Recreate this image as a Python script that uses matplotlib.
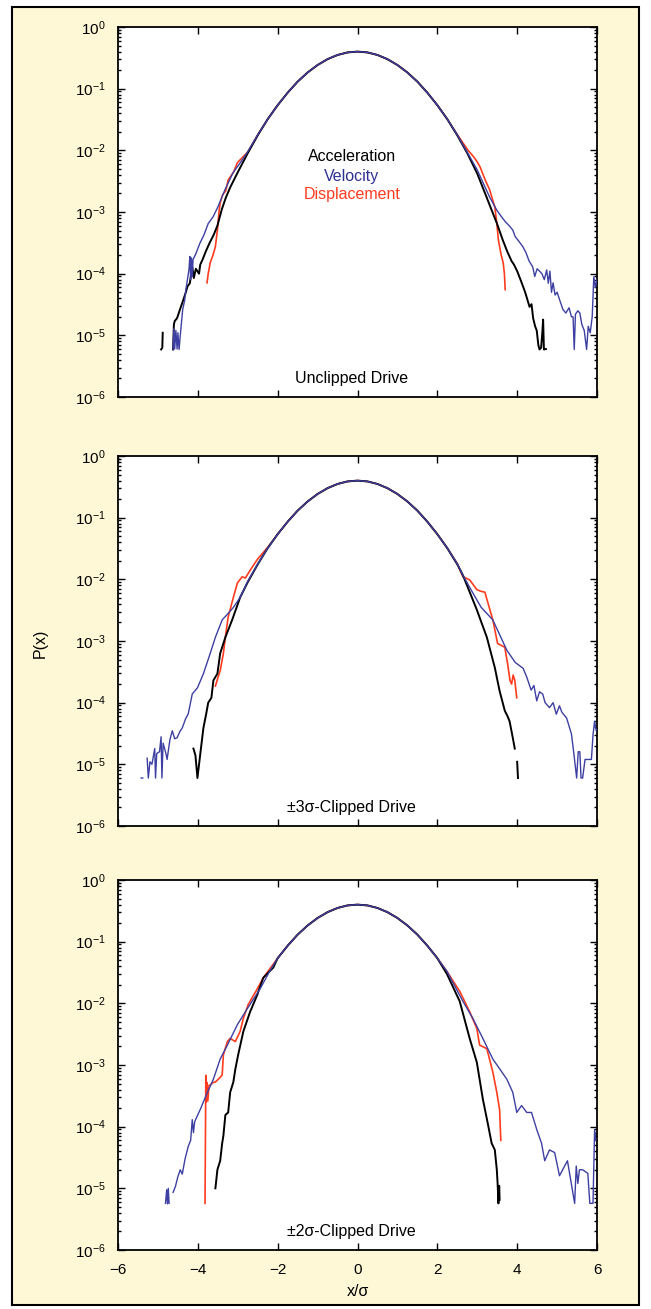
import numpy as np
import matplotlib
matplotlib.use('Agg')
import matplotlib.pyplot as plt
from matplotlib.patches import Rectangle
from matplotlib.ticker import LogLocator, LogFormatterMathtext, NullFormatter, FixedLocator

plt.rcParams['font.family'] = ['Liberation Sans', 'DejaVu Sans']
plt.rcParams['mathtext.fontset'] = 'custom'
plt.rcParams['mathtext.rm'] = 'Liberation Sans'
plt.rcParams['mathtext.it'] = 'Liberation Sans:italic'
plt.rcParams['mathtext.bf'] = 'Liberation Sans:bold'

nan = np.nan

# common gaussian-like core
core_x = [-2.0, -1.75, -1.5, -1.25, -1.0, -0.75, -0.5, -0.25, 0.0,
          0.25, 0.5, 0.75, 1.0, 1.25, 1.5, 1.75, 2.0]
core_p = [0.054, 0.086, 0.130, 0.183, 0.242, 0.301, 0.352, 0.387, 0.399,
          0.387, 0.352, 0.301, 0.242, 0.183, 0.130, 0.086, 0.054]

# ---- unclipped drive ----
acc1_lx = [-4.92, -4.89, -4.88, nan, -4.62, -4.6, -4.58, -4.52, -4.45, -4.38, -4.3, -4.26, -4.2,
           -4.14, -4.1, -4.05, -3.97, -3.94, -3.88, -3.8, -3.7, -3.6, -3.51, -3.4, -3.3, -3.19,
           -3.0, -2.75, -2.5, -2.25]
acc1_lp = [5.9e-6, 6.3e-6, 1.1e-5, nan, 5.9e-6, 1.5e-5, 1.7e-5, 1.9e-5, 2.6e-5, 3.5e-5, 5.0e-5, 6.2e-5, 7.0e-5,
           1.3e-4, 8.5e-5, 1.2e-4, 1.0e-4, 1.4e-4, 1.7e-4, 2.3e-4, 3.2e-4, 4.3e-4, 6.0e-4, 1.1e-3, 1.7e-3, 2.5e-3,
           4.4e-3, 9.0e-3, 1.75e-2, 3.2e-2]
acc1_rx = [2.25, 2.5, 2.75, 3.0, 3.24, 3.39, 3.49, 3.64, 3.75, 3.86, 3.92, 4.0, 4.1, 4.2, 4.31, 4.36,
           4.4, 4.45, 4.49, 4.53, 4.56, 4.6, 4.63, 4.65, 4.67, 4.72]
acc1_rp = [3.2e-2, 1.75e-2, 9.0e-3, 4.2e-3, 1.7e-3, 9.6e-4, 6.6e-4, 3.5e-4, 2.3e-4, 1.6e-4, 1.4e-4, 1.1e-4,
           7.5e-5, 5.0e-5, 2.9e-5, 3.2e-5, 1.9e-5, 1.4e-5, 1.2e-5, 7.0e-6, 5.9e-6, 6.3e-6, 1.1e-5, 1.8e-5,
           5.9e-6, 6.0e-6]

vel1_lx = [-4.62, -4.6, -4.58, -4.55, -4.52, -4.5, -4.47, -4.44, -4.41, -4.38, -4.33, -4.3, -4.26, -4.22,
           -4.2, -4.18, -4.16, -4.14, -4.12, -4.05, -3.95, -3.85, -3.74, -3.62, -3.5, -3.32, -3.12, -2.9,
           -2.75, -2.5, -2.25]
vel1_lp = [5.9e-6, 1.3e-5, 6.0e-6, 1.2e-5, 6.0e-6, 1.1e-5, 5.9e-6, 1.0e-5, 1.6e-5, 2.6e-5, 3.7e-5, 5.5e-5,
           8.0e-5, 1.2e-4, 1.9e-4, 8.0e-5, 1.8e-4, 9.0e-5, 1.7e-4, 2.1e-4, 3.1e-4, 4.2e-4, 6.5e-4, 8.3e-4,
           1.2e-3, 2.3e-3, 4.3e-3, 6.8e-3, 9.5e-3, 1.78e-2, 3.2e-2]
vel1_rx = [2.25, 2.5, 2.75, 3.0, 3.3, 3.49, 3.6, 3.7, 3.8, 3.89, 3.95, 4.02, 4.14, 4.22, 4.3, 4.39, 4.44,
           4.5, 4.56, 4.62, 4.68, 4.74, 4.78, 4.82, 4.86, 4.9, 4.95, 5.0, 5.08, 5.15, 5.22, 5.3, 5.36, 5.4,
           5.43, 5.46, 5.52, 5.57, 5.62, 5.68, 5.74, 5.78, 5.83, 5.88, 5.92, 5.96, 6.0]
vel1_rp = [3.2e-2, 1.78e-2, 9.3e-3, 4.8e-3, 1.8e-3, 1.07e-3, 8.5e-4, 7.0e-4, 6.0e-4, 5.1e-4, 4.0e-4, 3.5e-4,
           2.75e-4, 2.2e-4, 1.6e-4, 1.29e-4, 9.0e-5, 1.2e-4, 1.1e-4, 1.0e-4, 8.0e-5, 1.15e-4, 7.0e-5, 1.1e-4,
           5.0e-5, 7.1e-5, 4.5e-5, 5.0e-5, 3.5e-5, 2.6e-5, 2.3e-5, 2.8e-5, 2.0e-5, 2.0e-5, 5.9e-6, 2.2e-5,
           2.5e-5, 2.3e-5, 1.5e-5, 1.2e-5, 5.9e-6, 1.4e-5, 1.1e-5, 2.0e-5, 8.9e-5, 6.0e-5, 8.0e-5]

dis1_lx = [-3.77, -3.74, -3.69, -3.62, -3.56, -3.51, -3.47, -3.44, -3.38, -3.3, -3.24, -3.1, -3.01,
           -2.75, -2.5, -2.25]
dis1_lp = [7.1e-5, 1.0e-4, 1.5e-4, 2.0e-4, 2.75e-4, 5.1e-4, 1.0e-3, 1.4e-3, 1.9e-3, 2.2e-3, 3.3e-3, 4.5e-3,
           6.3e-3, 9.4e-3, 1.78e-2, 3.2e-2]
dis1_rx = [2.25, 2.5, 2.77, 2.9, 3.0, 3.07, 3.2, 3.31, 3.44, 3.49, 3.53, 3.6, 3.65, 3.68, 3.7]
dis1_rp = [3.2e-2, 1.8e-2, 1.0e-2, 8.0e-3, 6.5e-3, 5.4e-3, 3.3e-3, 2.3e-3, 1.2e-3, 6.6e-4, 3.5e-4, 2.0e-4,
           1.5e-4, 1.0e-4, 5.5e-5]

# ---- +-3 sigma clipped drive ----
acc2_lx = [-4.11, -4.06, -4.01, -3.94, -3.86, -3.79, -3.74, -3.66, -3.61, -3.51, -3.44, -3.31, -3.14,
           -2.94, -2.75, -2.5, -2.25]
acc2_lp = [1.8e-5, 1.4e-5, 6.0e-6, 1.45e-5, 3.9e-5, 6.6e-5, 1.0e-4, 1.2e-4, 2.3e-4, 2.95e-4, 6.3e-4,
           1.15e-3, 2.2e-3, 5.1e-3, 9.0e-3, 1.75e-2, 3.2e-2]
acc2_rx = [2.25, 2.5, 2.64, 2.99, 3.24, 3.44, 3.56, 3.69, 3.76, 3.81, 3.89, 3.94, nan, 4.0, 4.02]
acc2_rp = [3.2e-2, 1.75e-2, 1.17e-2, 3.2e-3, 1.15e-3, 3.7e-4, 1.55e-4, 7.4e-5, 6.0e-5, 5.0e-5, 2.7e-5,
           1.8e-5, nan, 1.1e-5, 6.0e-6]

vel2_lx = [-5.42, -5.38, nan, -5.27, -5.24, -5.2, -5.15, -5.08, -5.06, -5.03, -4.96, -4.92, -4.9, -4.87,
           -4.8, -4.77, -4.7, -4.64, -4.58, -4.52, -4.45, -4.39, -4.31, -4.24, -4.14, -4.01, -3.86, -3.69,
           -3.56, -3.39, -3.24, -3.11, -2.94, -2.75, -2.5, -2.25]
vel2_lp = [6.0e-6, 6.0e-6, nan, 1.26e-5, 6.0e-6, 1.1e-5, 1.0e-5, 1.8e-5, 6.0e-6, 1.5e-5, 1.6e-5, 2.8e-5,
           6.0e-6, 2.2e-5, 1.5e-5, 1.2e-5, 2.5e-5, 3.5e-5, 2.6e-5, 2.7e-5, 3.4e-5, 3.9e-5, 5.4e-5, 6.6e-5,
           1.38e-4, 1.74e-4, 2.95e-4, 6.3e-4, 1.15e-3, 2.2e-3, 2.8e-3, 3.5e-3, 5.1e-3, 9.3e-3, 1.78e-2, 3.2e-2]
vel2_rx = [2.25, 2.5, 2.64, 2.89, 3.1, 3.39, 3.74, 3.95, 4.15, 4.24, 4.35, 4.42, 4.49, 4.56, 4.64, 4.7,
           4.81, 4.9, 4.98, 5.06, 5.12, 5.24, 5.36, 5.42, 5.49, 5.53, 5.57, 5.6, 5.64, 5.7, 5.8, 5.86, 5.9,
           5.94, 5.98]
vel2_rp = [3.2e-2, 1.78e-2, 1.17e-2, 6.0e-3, 3.5e-3, 2.2e-3, 7.1e-4, 4.5e-4, 3.6e-4, 2.6e-4, 1.6e-4,
           1.9e-4, 1.07e-4, 1.5e-4, 1.38e-4, 1.0e-4, 8.3e-5, 1.0e-4, 6.5e-5, 8.9e-5, 7.0e-5, 5.6e-5, 3.1e-5,
           1.5e-5, 6.0e-6, 1.6e-5, 1.6e-5, 6.0e-6, 6.0e-6, 1.2e-5, 1.2e-5, 1.2e-5, 3.0e-5, 5.0e-5, 3.5e-5]

dis2_lx = [-3.56, -3.5, -3.44, -3.36, -3.31, -3.24, -3.11, -3.01, -2.89, -2.81, -2.69, -2.51, -2.25]
dis2_lp = [1.86e-4, 2.5e-4, 3.3e-4, 6.3e-4, 1.15e-3, 2.45e-3, 5.1e-3, 8.7e-3, 1.1e-2, 1.05e-2, 1.4e-2,
           2.1e-2, 3.3e-2]
dis2_rx = [2.25, 2.5, 2.64, 2.81, 2.99, 3.09, 3.19, 3.27, 3.39, 3.51, 3.6, 3.69, 3.76, 3.82, 3.86, 3.9,
           3.94, 3.99]
dis2_rp = [3.2e-2, 1.8e-2, 1.1e-2, 9.8e-3, 6.8e-3, 6.4e-3, 6.2e-3, 4.1e-3, 2.2e-3, 9.1e-4, 8.5e-4, 7.9e-4,
           4.3e-4, 2.3e-4, 2.0e-4, 2.8e-4, 2.3e-4, 1.2e-4]

# ---- +-2 sigma clipped drive ----
acc3_lx = [-3.56, -3.51, -3.44, -3.39, -3.36, -3.31, -3.24, -3.19, -3.11, -3.06, -2.99, -2.86, -2.69,
           -2.51, -2.36, -2.11]
acc3_lp = [1.0e-5, 2.0e-5, 2.8e-5, 5.4e-5, 7.1e-5, 1.55e-4, 1.7e-4, 3.6e-4, 5.3e-4, 8.6e-4, 1.46e-3,
           3.5e-3, 7.3e-3, 1.38e-2, 2.6e-2, 3.8e-2]
acc3_rx = [2.24, 2.56, 2.81, 2.99, 3.14, 3.26, 3.36, 3.44, 3.49, 3.51, 3.53, 3.55, 3.56]
acc3_rp = [3.0e-2, 1.08e-2, 2.7e-3, 1.1e-3, 2.8e-4, 1.16e-4, 5.4e-5, 4.2e-5, 2.0e-5, 1.2e-5, 5.7e-6,
           1.1e-5, 6.5e-6]

vel3_lx = [-4.81, -4.78, -4.76, -4.74, -4.72, nan, -4.62, -4.56, -4.5, -4.44, -4.39, -4.32, -4.24, -4.18,
           -4.14, -4.11, -4.08, -3.94, -3.76, -3.61, -3.44, -3.26, -3.01, -2.76, -2.44, -2.19]
vel3_lp = [5.7e-6, 9.5e-6, 5.6e-6, 1.0e-5, 5.7e-6, nan, 8.6e-6, 1.08e-5, 1.55e-5, 2.0e-5, 1.7e-5, 3.0e-5,
           4.8e-5, 6.0e-5, 1.3e-4, 8.0e-5, 1.2e-4, 1.9e-4, 3.6e-4, 5.9e-4, 1.25e-3, 2.1e-3, 4.5e-3, 8.2e-3,
           1.72e-2, 3.4e-2]
vel3_rx = [2.24, 2.64, 2.89, 3.14, 3.39, 3.74, 3.89, 3.99, 4.11, 4.24, 4.36, 4.49, 4.61, 4.69, 4.81, 4.94,
           5.06, 5.26, 5.44, 5.48, 5.52, 5.56, 5.64, 5.77, 5.82, 5.9, 5.94, 5.97]
vel3_rp = [3.3e-2, 1.08e-2, 5.7e-3, 2.7e-3, 1.25e-3, 5.9e-4, 3.6e-4, 1.7e-4, 2.2e-4, 1.7e-4, 1.7e-4,
           9.0e-5, 5.4e-5, 2.8e-5, 4.2e-5, 3.8e-5, 1.6e-5, 2.8e-5, 5.7e-6, 2.3e-5, 1.2e-5, 2.0e-5, 2.0e-5,
           1.75e-5, 5.7e-6, 5.7e-6, 9.0e-5, 6.0e-5]

dis3_lx = [-3.82, -3.8, -3.79, -3.77, -3.75, -3.72, -3.69, -3.62, -3.56, -3.45, -3.39, -3.36, -3.26,
           -3.19, -3.06, -2.94, -2.86, -2.74, -2.51, -2.36]
dis3_lp = [5.7e-6, 6.8e-4, 2.5e-4, 5.2e-4, 2.6e-4, 4.7e-4, 4.7e-4, 5.2e-4, 5.3e-4, 6.2e-4, 6.9e-4, 1.46e-3,
           2.4e-3, 2.7e-3, 2.4e-3, 3.5e-3, 5.7e-3, 9.5e-3, 1.72e-2, 2.6e-2]
dis3_rx = [2.24, 2.56, 2.81, 2.99, 3.06, 3.24, 3.39, 3.49, 3.56, 3.59]
dis3_rp = [3.3e-2, 1.57e-2, 7.3e-3, 3.9e-3, 2.1e-3, 1.84e-3, 7.7e-4, 3.6e-4, 1.88e-4, 6.0e-5]

panel_labels = ['Unclipped Drive', '\u00b13\u03c3-Clipped Drive', '\u00b12\u03c3-Clipped Drive']
legend_names = ['Acceleration', 'Velocity', 'Displacement']
decades = [1e-6, 1e-5, 1e-4, 1e-3, 1e-2, 1e-1, 1e0]
x_ticks = [-6, -4, -2, 0, 2, 4, 6]

c_acc = 'black'
c_vel = '#3d40a2'
c_dis = '#ff3c1e'


def curve(lx, lp, rx, rp):
    return np.array(lx + core_x + rx), np.array(lp + core_p + rp)


panels = [
    [curve(acc1_lx, acc1_lp, acc1_rx, acc1_rp), curve(vel1_lx, vel1_lp, vel1_rx, vel1_rp),
     curve(dis1_lx, dis1_lp, dis1_rx, dis1_rp)],
    [curve(acc2_lx, acc2_lp, acc2_rx, acc2_rp), curve(vel2_lx, vel2_lp, vel2_rx, vel2_rp),
     curve(dis2_lx, dis2_lp, dis2_rx, dis2_rp)],
    [curve(acc3_lx, acc3_lp, acc3_rx, acc3_rp), curve(vel3_lx, vel3_lp, vel3_rx, vel3_rp),
     curve(dis3_lx, dis3_lp, dis3_rx, dis3_rp)],
]

W, H = 651, 1309
fig = plt.figure(figsize=(W / 100, H / 100), dpi=100)
fig.patch.set_facecolor('white')
fig.patches.append(Rectangle((12 / W, 1 - 1305 / H), (639 - 12) / W, (1305 - 7) / H,
                             transform=fig.transFigure, facecolor='#fff8d6', edgecolor='black',
                             linewidth=1.5, zorder=-10))

tops = [27, 456, 880]
for i, top in enumerate(tops):
    ax = fig.add_axes([118 / W, 1 - (top + 370) / H, 479 / W, 370 / H])
    ax.set_facecolor('white')
    (ax_x, ax_p), (vx, vp), (dx, dp) = panels[i]
    ax.plot(dx, dp, color=c_dis, lw=1.2, zorder=2)
    ax.plot(ax_x, ax_p, color=c_acc, lw=1.4, zorder=3)
    ax.plot(vx, vp, color=c_vel, lw=1.0, zorder=4)
    ax.set_yscale('log')
    ax.set_xlim(-6, 6)
    ax.set_ylim(1e-6, 1)
    ax.xaxis.set_major_locator(FixedLocator(x_ticks))
    ax.yaxis.set_major_locator(FixedLocator(decades))
    ax.yaxis.set_minor_locator(LogLocator(base=10, subs=np.arange(2, 10), numticks=10))
    ax.yaxis.set_major_formatter(LogFormatterMathtext())
    ax.yaxis.set_minor_formatter(NullFormatter())
    ax.tick_params(which='both', direction='in', top=True, right=True, labelsize=11, width=1)
    ax.tick_params(which='major', length=5, pad=9)
    ax.tick_params(which='minor', length=2.5)
    ax.set_xticklabels(['\u22126', '\u22124', '\u22122', '0', '2', '4', '6'])
    if i < 2:
        ax.tick_params(axis='x', labelbottom=False)
    for s in ax.spines.values():
        s.set_linewidth(1.3)
    ax.text(0.487, 0.05, panel_labels[i], transform=ax.transAxes, ha='center', va='center', fontsize=11.5)
    if i == 0:
        for name, col, yy in zip(legend_names, [c_acc, '#2e3192', c_dis], [0.649, 0.597, 0.546]):
            ax.text(0.4885, yy, name, transform=ax.transAxes, ha='center', va='center',
                    fontsize=11.5, color=col)

fig.text(40 / W, 1 - 643 / H, 'P(x)', rotation=90, ha='center', va='center', fontsize=11.5)
fig.text(358 / W, 1 - 1291 / H, 'x/\u03c3', ha='center', va='center', fontsize=11.5)

fig.savefig('out.png', dpi=100)
